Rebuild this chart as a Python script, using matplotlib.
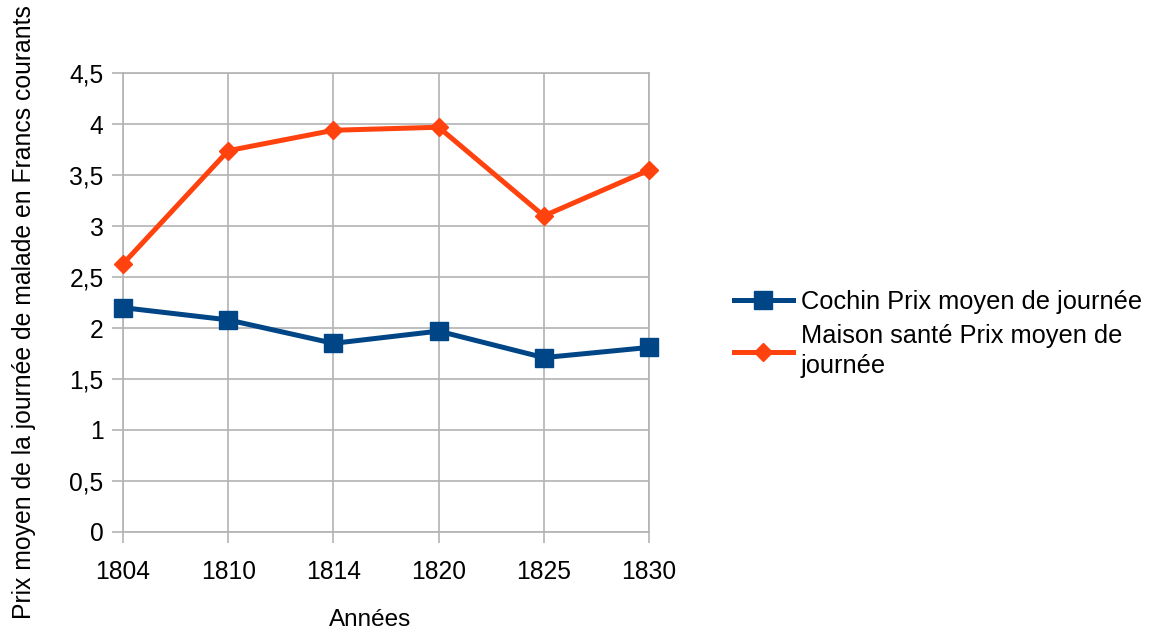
import matplotlib.pyplot as plt

plt.rcParams['font.family'] = ['Liberation Sans', 'DejaVu Sans']

years = ['1804', '1810', '1814', '1820', '1825', '1830']
cochin = [2.20, 2.08, 1.85, 1.97, 1.71, 1.81]
maison = [2.63, 3.74, 3.94, 3.97, 3.10, 3.55]

blue = '#004586'
orange = '#ff420e'
grid = '#b3b3b3'

fig = plt.figure(figsize=(11.52, 6.31), dpi=100)
ax = fig.add_axes([0.1068, 0.157, 0.4566, 0.727])

x = range(len(years))
ax.plot(x, cochin, color=blue, lw=3.6, marker='s', ms=13,
        label='Cochin Prix moyen de journée', clip_on=False, zorder=3)
ax.plot(x, maison, color=orange, lw=3.6, marker='D', ms=9,
        label='Maison santé Prix moyen de\njournée', clip_on=False, zorder=3)

ax.set_xlim(0, len(years) - 1)
ax.set_ylim(0, 4.5)
ax.set_xticks(list(x))
ax.set_xticklabels(years)
yt = [i * 0.5 for i in range(10)]
ax.set_yticks(yt)
ax.set_yticklabels([('%g' % v).replace('.', ',') for v in yt])
ax.tick_params(labelsize=17.7, length=8, width=1.2, color=grid)
ax.tick_params(axis='x', pad=12)
ax.tick_params(axis='y', pad=6)
ax.grid(True, color=grid, lw=1.2)
ax.set_axisbelow(True)
for s in ax.spines.values():
    s.set_color(grid)
    s.set_linewidth(1.2)

fig.text(0.321, 0.018, 'Années', fontsize=17.5, ha='center', va='center')
fig.text(0.021, 0.505, 'Prix moyen de la journée de malade en Francs courants',
         rotation=90, fontsize=17.8, ha='center', va='center')

leg = ax.legend(loc='upper left', bbox_to_anchor=(0.628, 0.556),
                bbox_transform=fig.transFigure, frameon=False, fontsize=18.3,
                handlelength=2.35, handletextpad=0.3, labelspacing=0.4,
                borderaxespad=0)
for t in leg.get_texts():
    t.set_linespacing(1.3)

fig.savefig('out.png', dpi=100)
